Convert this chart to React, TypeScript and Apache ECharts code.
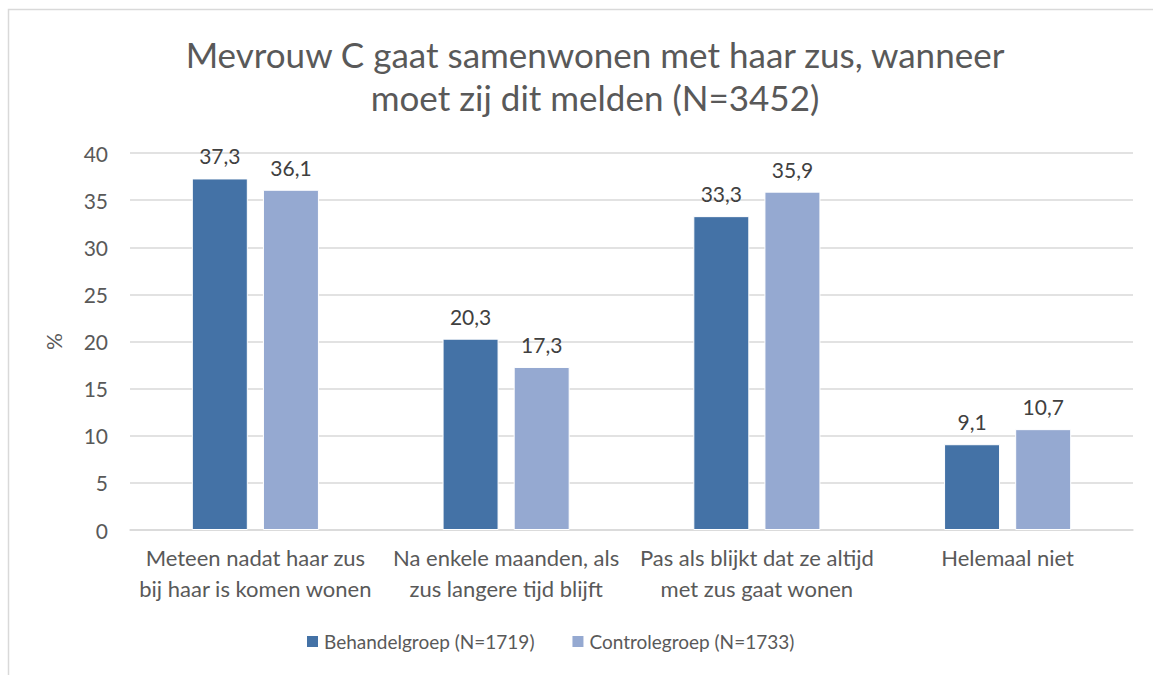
import React, { useEffect, useRef } from "react";
import * as echarts from "echarts";

const categories = [
  "Meteen nadat haar zus\nbij haar is komen wonen",
  "Na enkele maanden, als\nzus langere tijd blijft",
  "Pas als blijkt dat ze altijd\nmet zus gaat wonen",
  "Helemaal niet",
];
const behandel = [37.3, 20.3, 33.3, 9.1];
const controle = [36.1, 17.3, 35.9, 10.7];
const seriesNames = ["Behandelgroep (N=1719)", "Controlegroep (N=1733)"];
const titleText = "Mevrouw C gaat samenwonen met haar zus, wanneer\nmoet zij dit melden (N=3452)";

const FONT = "Lato, 'Open Sans', sans-serif";

export default function App() {
  const ref = useRef<HTMLDivElement>(null);
  useEffect(() => {
    if (!ref.current) return;
    const chart = echarts.init(ref.current, null, { renderer: "svg" });
    const label = {
      show: true,
      position: "top" as const,
      distance: 12,
      color: "#404040",
      fontSize: 21,
      fontFamily: FONT,
      formatter: (p: any) => String(p.value).replace(".", ","),
    };
    chart.setOption({
      animation: false,
      backgroundColor: "#ffffff",
      textStyle: { fontFamily: FONT },
      title: {
        text: titleText,
        left: 590,
        textAlign: "center",
        top: 27,
        textStyle: {
          fontSize: 35,
          fontWeight: "normal",
          color: "#595959",
          fontFamily: FONT,
          lineHeight: 43,
        },
      },
      graphic: [
        {
          type: "rect",
          shape: { x: 8.5, y: 9.5, width: 1300, height: 800 },
          style: { fill: "none", stroke: "#d9d9d9", lineWidth: 1.5 },
          silent: true,
        },
      ],
      legend: {
        bottom: 19,
        left: 300,
        itemWidth: 13,
        itemHeight: 13,
        itemGap: 36,
        icon: "rect",
        textStyle: { fontSize: 19, color: "#595959", fontFamily: FONT },
        data: seriesNames,
      },
      grid: { left: 130, right: 20, top: 153, bottom: 145 },
      xAxis: {
        type: "category",
        data: categories,
        axisLine: { lineStyle: { color: "#d9d9d9", width: 1.5 } },
        axisTick: { show: false },
        axisLabel: {
          color: "#595959",
          fontSize: 22,
          lineHeight: 31,
          margin: 12,
          fontFamily: FONT,
          interval: 0,
        },
      },
      yAxis: {
        type: "value",
        min: 0,
        max: 40,
        interval: 5,
        name: "%",
        nameLocation: "middle",
        nameGap: 66,
        nameRotate: 90,
        nameTextStyle: { color: "#595959", fontSize: 21, fontFamily: FONT },
        axisLine: { show: false },
        axisTick: { show: false },
        axisLabel: { color: "#595959", fontSize: 21, margin: 22, fontFamily: FONT },
        splitLine: { lineStyle: { color: "#d9d9d9", width: 1.5 } },
      },
      series: [
        {
          name: seriesNames[0],
          type: "bar",
          data: behandel,
          barWidth: 56,
          barGap: "27%",
          itemStyle: { color: "#4472A6", borderColor: "#ffffff", borderWidth: 1 },
          label,
        },
        {
          name: seriesNames[1],
          type: "bar",
          data: controle,
          barWidth: 56,
          itemStyle: { color: "#95A9D1", borderColor: "#ffffff", borderWidth: 1 },
          label,
        },
      ],
    });
    return () => chart.dispose();
  }, []);
  return (
    <div
      ref={ref}
      style={{ position: "absolute", left: 0, top: 0, width: 1153, height: 675 }}
    />
  );
}
